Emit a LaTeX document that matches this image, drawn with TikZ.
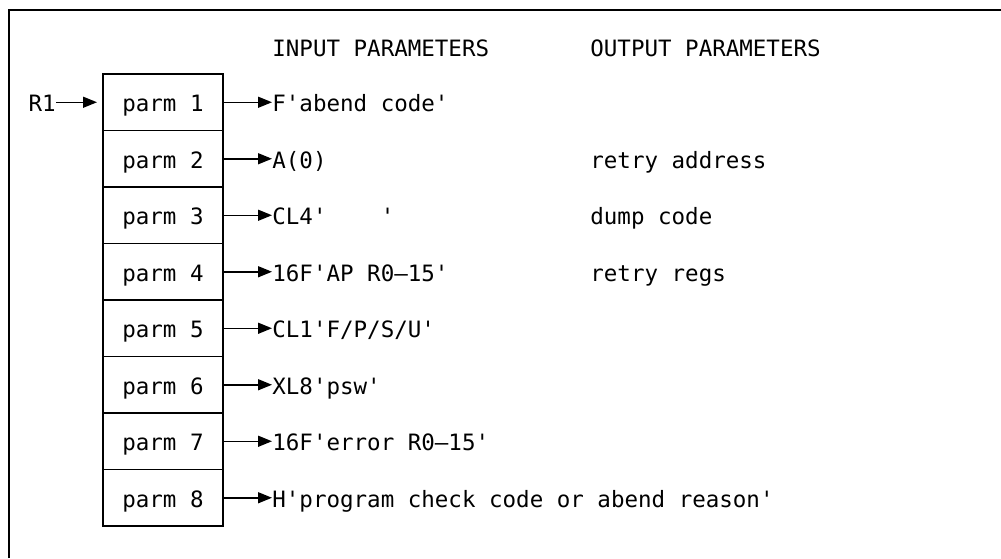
\documentclass[tikz,border=0pt]{standalone}
\usepackage{fontspec}
\setmonofont{DejaVu Sans Mono}
\usetikzlibrary{calc,positioning,arrows.meta}

\begin{document}
\begin{tikzpicture}[x=0.5pt,y=-0.5pt]

\tikzset{parmbox/.style={draw,line width=0.85pt,font=\ttfamily\fontsize{11.25}{13}\selectfont,minimum width=60pt,minimum height=28.25pt,inner sep=0pt,outer sep=0pt,text height=9.5pt,text depth=0pt},
monotext/.style={font=\ttfamily\fontsize{11.25}{13}\selectfont,inner sep=0pt,anchor=west,text height=9.5pt,text depth=0pt},
parmarrow/.style={line width=0.75pt,-{Triangle[length=7pt,width=5.5pt]}}}

\useasboundingbox (0,0) rectangle (1001,558);

% Frame
\draw[line width=1pt] (9,558) -- (9,10) -- (1001,10);

% Headings
\node[monotext] (inhead) at (272,47) {INPUT PARAMETERS};
\node[monotext] (outhead) at (590,47) {OUTPUT PARAMETERS};

% parameter list
\node[parmbox] (p1) at (163,102.25) {parm 1};
\node[parmbox,below=0pt of p1] (p2) {parm 2};
\node[parmbox,below=0pt of p2] (p3) {parm 3};
\node[parmbox,below=0pt of p3] (p4) {parm 4};
\node[parmbox,below=0pt of p4] (p5) {parm 5};
\node[parmbox,below=0pt of p5] (p6) {parm 6};
\node[parmbox,below=0pt of p6] (p7) {parm 7};
\node[parmbox,below=0pt of p7] (p8) {parm 8};

% register pointer
\node[monotext,anchor=east] (r1) at (56,102.25) {R1};
\draw[parmarrow,shorten >=3pt] (r1) -- (p1);

% input values
\node[monotext] (in1) at ($(p1.east)+(49,0)$) {F'abend code'};
\node[monotext] (in2) at ($(p2.east)+(49,0)$) {A(0)};
\node[monotext] (in3) at ($(p3.east)+(49,0)$) {CL4'\ \ \ \ '};
\node[monotext] (in4) at ($(p4.east)+(49,0)$) {16F'AP R0–15'};
\node[monotext] (in5) at ($(p5.east)+(49,0)$) {CL1'F/P/S/U'};
\node[monotext] (in6) at ($(p6.east)+(49,0)$) {XL8'psw'};
\node[monotext] (in7) at ($(p7.east)+(49,0)$) {16F'error R0–15'};
\node[monotext] (in8) at ($(p8.east)+(49,0)$) {H'program check code or abend reason'};
\foreach \x in {1,...,8} \draw[parmarrow] (p\x.east) -- (in\x.west);

% output values
\node[monotext] (out2) at ($(p2.east)+(367,0)$) {retry address};
\node[monotext] (out3) at ($(p3.east)+(367,0)$) {dump code};
\node[monotext] (out4) at ($(p4.east)+(367,0)$) {retry regs};

\end{tikzpicture}
\end{document}
